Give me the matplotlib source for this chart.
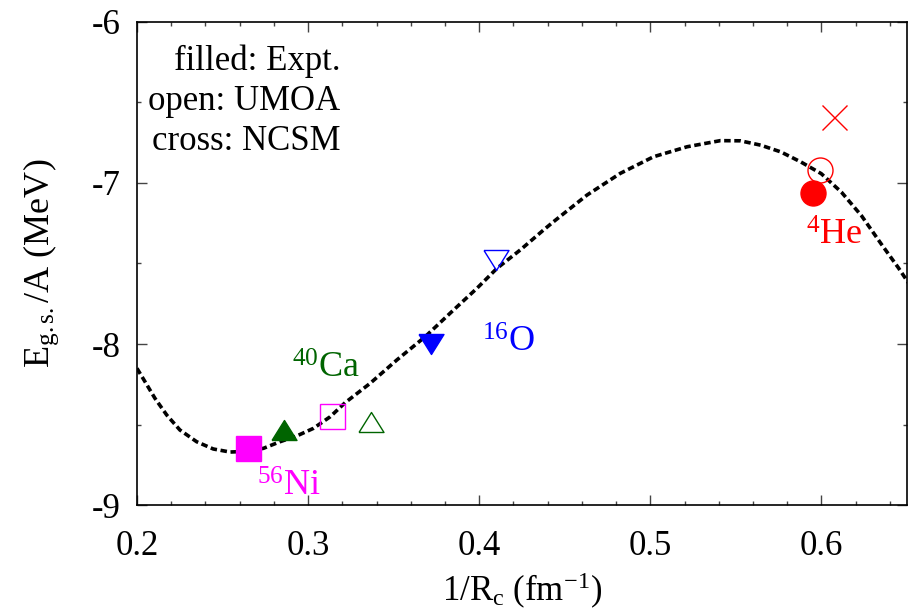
import numpy as np
import matplotlib
matplotlib.use('Agg')
import matplotlib.pyplot as plt

plt.rcParams['font.family'] = ['Liberation Serif', 'DejaVu Serif']
plt.rcParams['mathtext.fontset'] = 'custom'
plt.rcParams['mathtext.rm'] = 'Liberation Serif'
plt.rcParams['mathtext.it'] = 'Liberation Serif:italic'
plt.rcParams['axes.unicode_minus'] = False

# fitted curve
curve_x = [0.2000, 0.2047, 0.2105, 0.2174, 0.2251, 0.2349, 0.2446, 0.2544,
           0.2632, 0.2739, 0.2836, 0.2934, 0.3031, 0.3129, 0.3216, 0.3363,
           0.3519, 0.3684, 0.3850, 0.3987, 0.4104, 0.4240, 0.4376, 0.4435,
           0.4630, 0.4825, 0.5019, 0.5215, 0.5409, 0.5526, 0.5645, 0.5763,
           0.5881, 0.5999, 0.6117, 0.6234, 0.6351, 0.6450, 0.6509]
curve_y = [-8.151, -8.234, -8.337, -8.441, -8.534, -8.607, -8.652, -8.671,
           -8.667, -8.648, -8.607, -8.571, -8.524, -8.452, -8.365, -8.244,
           -8.099, -7.955, -7.789, -7.654, -7.530, -7.416, -7.292, -7.240,
           -7.075, -6.940, -6.837, -6.775, -6.737, -6.738, -6.765, -6.807,
           -6.870, -6.942, -7.057, -7.203, -7.381, -7.527, -7.621]

# nuclei: 56Ni, 40Ca, 16O, 4He
expt_x = [0.265, 0.286, 0.372, 0.595]
expt_y = [-8.646, -8.532, -8.000, -7.062]
umoa_x = [0.314, 0.337, 0.410, 0.599]
umoa_y = [-8.449, -8.486, -7.478, -6.919]
ncsm_x = [0.6076]
ncsm_y = [-6.590]

names = [r'$\mathregular{^{56}}$Ni', r'$\mathregular{^{40}}$Ca',
         r'$\mathregular{^{16}}$O', r'$\mathregular{^{4}}$He']
name_x = [0.2700, 0.2905, 0.4015, 0.5908]
name_y = [-8.94, -8.21, -8.05, -7.385]

colors = ['#ff00ff', '#006400', '#0000ff', '#ff0000']
tri_up = [(-1, -0.8), (1, -0.8), (0, 0.8), (-1, -0.8)]
tri_dn = [(-1, 0.8), (1, 0.8), (0, -0.8), (-1, 0.8)]
markers = ['s', tri_up, tri_dn, 'o']

fig = plt.figure(figsize=(9.13, 6.14), dpi=100)
ax = fig.add_axes([0.150, 0.1775, 0.8434, 0.7867])

ax.plot(curve_x, curve_y, color='black', lw=2.6, dashes=(1.8, 1.0),
        dash_capstyle='butt', zorder=2)

for i in range(4):
    ax.plot(expt_x[i], expt_y[i], marker=markers[i], ms=18, color=colors[i],
            mec=colors[i], mew=1, ls='none', zorder=3)
    ax.plot(umoa_x[i], umoa_y[i], marker=markers[i], ms=18, mfc='none',
            mec=colors[i], mew=1, ls='none', zorder=3)
    ax.text(name_x[i], name_y[i], names[i], color=colors[i], fontsize=26,
            ha='left', va='baseline')
ax.plot(ncsm_x, ncsm_y, marker='x', ms=18, color=colors[3], mew=1, ls='none')

leg = dict(fontsize=25, ha='right', va='center', transform=ax.transAxes)
ax.text(0.264, 0.918, 'filled: Expt.', **leg)
ax.text(0.264, 0.836, 'open: UMOA', **leg)
ax.text(0.264, 0.753, 'cross: NCSM', **leg)

ax.set_xlim(0.2, 0.65)
ax.set_ylim(-9, -6)
ax.set_xticks([0.2, 0.3, 0.4, 0.5, 0.6])
ax.set_xticklabels(['0.2', '0.3', '0.4', '0.5', '0.6'])
ax.set_xticks(np.arange(0.22, 0.65, 0.02), minor=True)
ax.set_yticks([-9, -8, -7, -6])
ax.set_yticklabels(['-9', '-8', '-7', '-6'])
ax.set_yticks([-8.5, -7.5, -6.5], minor=True)
ax.tick_params(which='both', direction='in', top=True, right=True,
               labelsize=25, color='#444444', width=1)
ax.tick_params(which='major', length=7)
ax.tick_params(axis='x', which='major', pad=18)
ax.tick_params(axis='y', which='major', pad=12)
ax.tick_params(which='minor', length=3)
for s in ax.spines.values():
    s.set_linewidth(1.2)

ax.set_xlabel(r'1/R$\mathregular{_c}$ (fm$\mathregular{^{-1}}$)', fontsize=25, labelpad=6)
ax.set_ylabel(r'E$\mathregular{_{g.s.}}$/A (MeV)', fontsize=26, labelpad=22)

plt.savefig('out.png', dpi=100)
